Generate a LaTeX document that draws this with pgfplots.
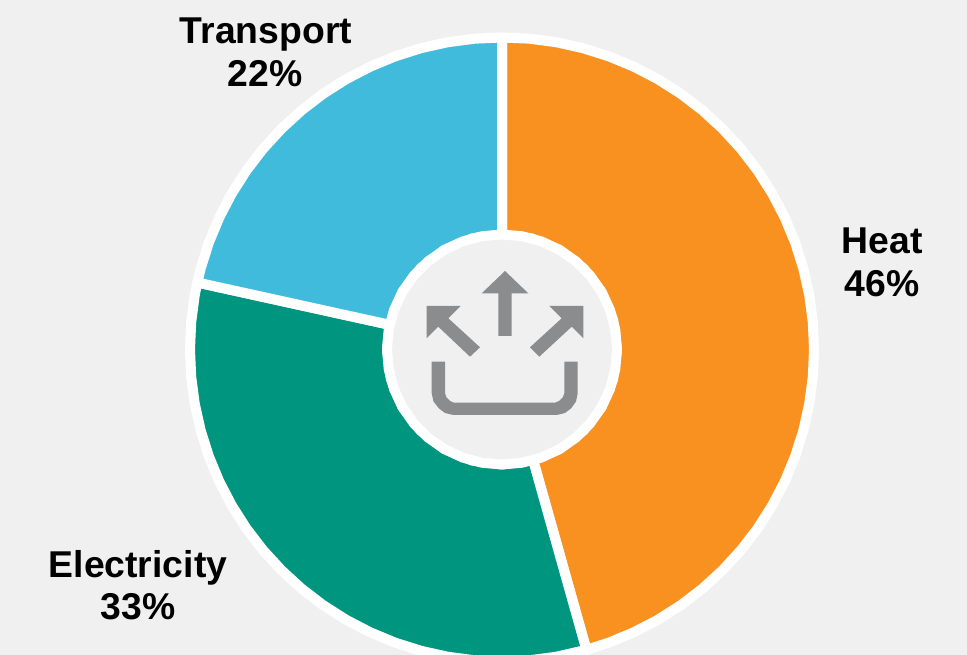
\documentclass[border=0pt]{standalone}
\usepackage{fontspec}
\setmainfont{Liberation Sans}
\usepackage{pgfplots}
\pgfplotsset{compat=1.18}
\definecolor{bgc}{HTML}{F0F0F0}
\definecolor{heatc}{HTML}{F99120}
\definecolor{transc}{HTML}{41BBDC}
\definecolor{elecc}{HTML}{00957F}
\definecolor{iconc}{HTML}{8A8C8E}
\newcommand{\lab}[1]{\fontsize{28}{32}\selectfont\bfseries #1}
\begin{document}
\begin{tikzpicture}
\begin{axis}[name=a,
  scale only axis, width=725.25pt, height=491.25pt,
  xmin=-502, xmax=465, ymin=-305.5, ymax=349.5,
  hide axis, axis background/.style={fill=bgc},
  clip=true]
% white disc behind the ring
\addplot[data cs=polar, fill=white, draw=none, mark=none] coordinates {
(0,316.5)(5,316.5)(10,316.5)(15,316.5)(20,316.5)(25,316.5)(30,316.5)(35,316.5)(40,316.5)(45,316.5)(50,316.5)(55,316.5)
(60,316.5)(65,316.5)(70,316.5)(75,316.5)(80,316.5)(85,316.5)(90,316.5)(95,316.5)(100,316.5)(105,316.5)(110,316.5)(115,316.5)
(120,316.5)(125,316.5)(130,316.5)(135,316.5)(140,316.5)(145,316.5)(150,316.5)(155,316.5)(160,316.5)(165,316.5)(170,316.5)(175,316.5)
(180,316.5)(185,316.5)(190,316.5)(195,316.5)(200,316.5)(205,316.5)(210,316.5)(215,316.5)(220,316.5)(225,316.5)(230,316.5)(235,316.5)
(240,316.5)(245,316.5)(250,316.5)(255,316.5)(260,316.5)(265,316.5)(270,316.5)(275,316.5)(280,316.5)(285,316.5)(290,316.5)(295,316.5)
(300,316.5)(305,316.5)(310,316.5)(315,316.5)(320,316.5)(325,316.5)(330,316.5)(335,316.5)(340,316.5)(345,316.5)(350,316.5)(355,316.5)
} --cycle;
% Heat 46%
\addplot[data cs=polar, fill=heatc, draw=white, line width=7.5pt, line join=round, mark=none] coordinates {
(90,312)(85,312)(80,312)(75,312)(70,312)(65,312)(60,312)(55,312)(50,312)(45,312)(40,312)(35,312)(30,312)(25,312)(20,312)(15,312)(10,312)(5,312)(0,312)
(-5,312)(-10,312)(-15,312)(-20,312)(-25,312)(-30,312)(-35,312)(-40,312)(-45,312)(-50,312)(-55,312)(-60,312)(-65,312)(-70,312)(-74.3,312)
(-74.3,115)(-60,115)(-45,115)(-30,115)(-15,115)(0,115)(15,115)(30,115)(45,115)(60,115)(75,115)(90,115)
} --cycle;
% Electricity 33%
\addplot[data cs=polar, fill=elecc, draw=white, line width=7.5pt, line join=round, mark=none] coordinates {
(285.7,312)(280,312)(275,312)(270,312)(265,312)(260,312)(255,312)(250,312)(245,312)(240,312)(235,312)(230,312)(225,312)(220,312)(215,312)(210,312)(205,312)(200,312)(195,312)(190,312)(185,312)(180,312)(175,312)(170,312)(167.6,312)
(167.6,115)(180,115)(195,115)(210,115)(225,115)(240,115)(255,115)(270,115)(285.7,115)
} --cycle;
% Transport 22%
\addplot[data cs=polar, fill=transc, draw=white, line width=7.5pt, line join=round, mark=none] coordinates {
(167.6,312)(165,312)(160,312)(155,312)(150,312)(145,312)(140,312)(135,312)(130,312)(125,312)(120,312)(115,312)(110,312)(105,312)(100,312)(95,312)(90,312)
(90,115)(105,115)(120,115)(135,115)(150,115)(167.6,115)
} --cycle;
% white ring, grey centre
\addplot[data cs=polar, fill=white, draw=none, mark=none] coordinates {
(0,120)(10,120)(20,120)(30,120)(40,120)(50,120)(60,120)(70,120)(80,120)(90,120)(100,120)(110,120)(120,120)(130,120)(140,120)(150,120)(160,120)(170,120)
(180,120)(190,120)(200,120)(210,120)(220,120)(230,120)(240,120)(250,120)(260,120)(270,120)(280,120)(290,120)(300,120)(310,120)(320,120)(330,120)(340,120)(350,120)
} --cycle;
\addplot[data cs=polar, fill=bgc, draw=none, mark=none] coordinates {
(0,110)(10,110)(20,110)(30,110)(40,110)(50,110)(60,110)(70,110)(80,110)(90,110)(100,110)(110,110)(120,110)(130,110)(140,110)(150,110)(160,110)(170,110)
(180,110)(190,110)(200,110)(210,110)(220,110)(230,110)(240,110)(250,110)(260,110)(270,110)(280,110)(290,110)(300,110)(310,110)(320,110)(330,110)(340,110)(350,110)
} --cycle;
% icon
\addplot[fill=iconc, draw=none, mark=none] coordinates {
(3,78.5)(26.3,56.2)(9.7,56.2)(9.7,13.5)(-3.7,13.5)(-3.7,56.2)(-20.3,56.2)} --cycle;
\addplot[fill=iconc, draw=none, mark=none] coordinates {
(-75.3,43.5)(-41.3,43.5)(-53.7,31.2)(-22,2.2)(-32,-7.2)(-63.7,22.8)(-75.3,11.2)} --cycle;
\addplot[fill=iconc, draw=none, mark=none] coordinates {
(81.3,43.5)(47.3,43.5)(59.7,31.2)(28,2.2)(37.3,-7.2)(69.7,22.8)(81.3,11.2)} --cycle;
\addplot[fill=iconc, draw=none, mark=none] coordinates {
(-70.3,-12.2)(-57,-12.2)(-57,-43.8)(-55.5,-48)(-52,-51.5)(-48,-53.2)(53,-53.2)(57,-51.5)(60.7,-48)(62.3,-43.8)
(62.3,-12.2)(75.7,-12.2)(75.7,-43.8)(74,-52)(69,-59)(63,-63.5)(54.7,-65.5)(-48.7,-65.5)(-57,-63.5)(-63,-59)(-68.5,-52)(-70.3,-43.8)} --cycle;
% labels
\node[anchor=base, inner sep=0pt] at (axis cs:-236,305.5) {\lab{Transport}};
\node[anchor=base, inner sep=0pt] at (axis cs:-237,262.5) {\lab{22\%}};
\node[anchor=base, inner sep=0pt] at (axis cs:380,95.5) {\lab{Heat}};
\node[anchor=base, inner sep=0pt] at (axis cs:380,52.5) {\lab{46\%}};
\node[anchor=base, inner sep=0pt] at (axis cs:-364,-228.5) {\lab{Electricity}};
\node[anchor=base, inner sep=0pt] at (axis cs:-364,-270.5) {\lab{33\%}};
\end{axis}
\pgfresetboundingbox
\useasboundingbox (a.south west) rectangle (a.north east);
\end{tikzpicture}
\end{document}
